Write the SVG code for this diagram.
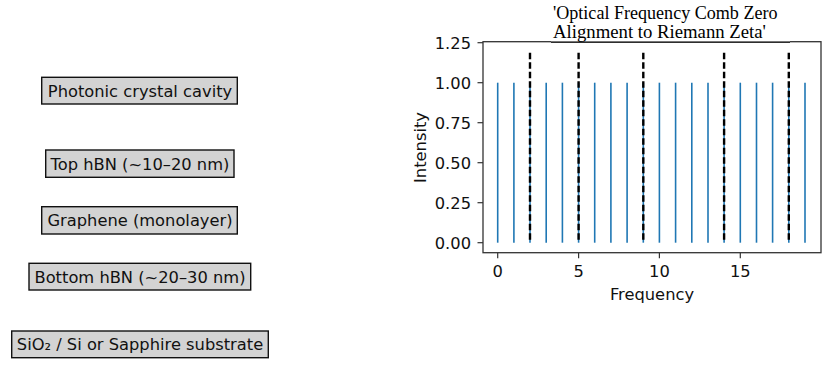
<svg xmlns="http://www.w3.org/2000/svg" width="834" height="374" viewBox="0 0 834 374">
<style>
.lbl{font-family:"DejaVu Sans",sans-serif;font-size:16.3px;fill:#111;}
.box{fill:#d3d3d3;stroke:#111;stroke-width:1.4;}
.tick{stroke:#333;stroke-width:1.2;}
.comb{stroke:#1f77b4;stroke-width:1.6;}
.zero{stroke:#000;stroke-width:2.4;stroke-dasharray:6.6 2.9;}
.title{font-family:"Liberation Serif",serif;font-size:18px;fill:#000;}
</style>
<rect width="834" height="374" fill="#fff"/>
<g id="layer-photonic"><rect class="box" x="41.7" y="77.3" width="195.6" height="26.7"/><text class="lbl" x="140" y="96.5" text-anchor="middle">Photonic crystal cavity</text></g>
<g id="layer-top-hbn"><rect class="box" x="45.7" y="150" width="188.3" height="27.3"/><text class="lbl" x="140" y="169.5" text-anchor="middle">Top hBN (~10–20 nm)</text></g>
<g id="layer-graphene"><rect class="box" x="41.7" y="206.7" width="195.6" height="27.3"/><text class="lbl" x="140" y="226" text-anchor="middle">Graphene (monolayer)</text></g>
<g id="layer-bottom-hbn"><rect class="box" x="29" y="263.3" width="221.7" height="26.7"/><text class="lbl" x="140" y="282.5" text-anchor="middle">Bottom hBN (~20–30 nm)</text></g>
<g id="layer-substrate"><rect class="box" x="11.7" y="331" width="256.6" height="26.7"/><text class="lbl" x="140" y="350" text-anchor="middle">SiO₂ / Si or Sapphire substrate</text></g>
<g id="chart">
<g id="comb-lines">
<line class="comb" x1="497.7" y1="242.7" x2="497.7" y2="82.7"/>
<line class="comb" x1="513.9" y1="242.7" x2="513.9" y2="82.7"/>
<line class="comb" x1="530.0" y1="242.7" x2="530.0" y2="82.7"/>
<line class="comb" x1="546.2" y1="242.7" x2="546.2" y2="82.7"/>
<line class="comb" x1="562.4" y1="242.7" x2="562.4" y2="82.7"/>
<line class="comb" x1="578.6" y1="242.7" x2="578.6" y2="82.7"/>
<line class="comb" x1="594.7" y1="242.7" x2="594.7" y2="82.7"/>
<line class="comb" x1="610.9" y1="242.7" x2="610.9" y2="82.7"/>
<line class="comb" x1="627.1" y1="242.7" x2="627.1" y2="82.7"/>
<line class="comb" x1="643.3" y1="242.7" x2="643.3" y2="82.7"/>
<line class="comb" x1="659.4" y1="242.7" x2="659.4" y2="82.7"/>
<line class="comb" x1="675.6" y1="242.7" x2="675.6" y2="82.7"/>
<line class="comb" x1="691.8" y1="242.7" x2="691.8" y2="82.7"/>
<line class="comb" x1="708.0" y1="242.7" x2="708.0" y2="82.7"/>
<line class="comb" x1="724.1" y1="242.7" x2="724.1" y2="82.7"/>
<line class="comb" x1="740.3" y1="242.7" x2="740.3" y2="82.7"/>
<line class="comb" x1="756.5" y1="242.7" x2="756.5" y2="82.7"/>
<line class="comb" x1="772.6" y1="242.7" x2="772.6" y2="82.7"/>
<line class="comb" x1="788.8" y1="242.7" x2="788.8" y2="82.7"/>
<line class="comb" x1="805.0" y1="242.7" x2="805.0" y2="82.7"/>
</g>
<g id="zero-lines">
<line class="zero" x1="530.0" y1="52.7" x2="530.0" y2="242.7"/>
<line class="zero" x1="578.6" y1="52.7" x2="578.6" y2="242.7"/>
<line class="zero" x1="643.3" y1="52.7" x2="643.3" y2="242.7"/>
<line class="zero" x1="724.1" y1="52.7" x2="724.1" y2="242.7"/>
<line class="zero" x1="788.8" y1="52.7" x2="788.8" y2="242.7"/>
</g>
<rect x="483" y="41.7" width="338" height="211" fill="none" stroke="#333" stroke-width="1.3"/>
<g id="yticks">
<line class="tick" x1="477.5" y1="42.7" x2="483" y2="42.7"/>
<line class="tick" x1="477.5" y1="82.7" x2="483" y2="82.7"/>
<line class="tick" x1="477.5" y1="122.7" x2="483" y2="122.7"/>
<line class="tick" x1="477.5" y1="162.7" x2="483" y2="162.7"/>
<line class="tick" x1="477.5" y1="202.7" x2="483" y2="202.7"/>
<line class="tick" x1="477.5" y1="242.7" x2="483" y2="242.7"/>
<text class="lbl" x="471" y="48.6" text-anchor="end">1.25</text>
<text class="lbl" x="471" y="88.6" text-anchor="end">1.00</text>
<text class="lbl" x="471" y="128.6" text-anchor="end">0.75</text>
<text class="lbl" x="471" y="168.6" text-anchor="end">0.50</text>
<text class="lbl" x="471" y="208.6" text-anchor="end">0.25</text>
<text class="lbl" x="471" y="248.6" text-anchor="end">0.00</text>
</g>
<g id="xticks">
<line class="tick" x1="497.7" y1="252.7" x2="497.7" y2="258.2"/>
<line class="tick" x1="578.6" y1="252.7" x2="578.6" y2="258.2"/>
<line class="tick" x1="659.4" y1="252.7" x2="659.4" y2="258.2"/>
<line class="tick" x1="740.3" y1="252.7" x2="740.3" y2="258.2"/>
<text class="lbl" x="497.7" y="277.3" text-anchor="middle">0</text>
<text class="lbl" x="578.6" y="277.3" text-anchor="middle">5</text>
<text class="lbl" x="659.4" y="277.3" text-anchor="middle">10</text>
<text class="lbl" x="740.3" y="277.3" text-anchor="middle">15</text>
</g>
<text class="lbl" x="652" y="300" text-anchor="middle">Frequency</text>
<text class="lbl" transform="translate(426,147.5) rotate(-90)" text-anchor="middle">Intensity</text>
<g id="title">
<rect x="551" y="0" width="239" height="41.5" fill="#fff"/>
<line x1="551" y1="42.2" x2="790" y2="42.2" stroke="#000" stroke-width="1.1"/>
<text class="title" x="553" y="18.5" textLength="224.5" lengthAdjust="spacingAndGlyphs">'Optical Frequency Comb Zero</text>
<text class="title" x="553" y="37.5" textLength="213" lengthAdjust="spacingAndGlyphs">Alignment to Riemann Zeta'</text>
</g>
</g>
</svg>
